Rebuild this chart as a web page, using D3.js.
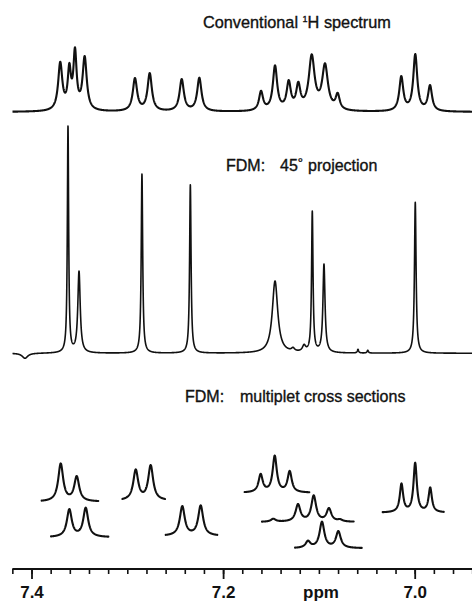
<!DOCTYPE html>
<html>
<head>
<meta charset="utf-8">
<script src="https://cdn.jsdelivr.net/npm/d3@7"></script>
<style>
  html, body { margin: 0; padding: 0; background: #fff; }
  svg { display: block; }
  text { font-family: "Liberation Sans", Arial, sans-serif; fill: #111; }
  .lbl { stroke: #111; stroke-width: 0.35px; }
</style>
</head>
<body>
<svg id="chart" width="472" height="603"></svg>
<script>
// ---------- DATA (chemical shift in ppm, intensity in arbitrary units, line half-width in ppm) ----------
// Conventional 1H spectrum: observed peak maxima
const topShift  = [7.3700, 7.3605, 7.3546, 7.3445, 7.2920, 7.2766, 7.2432, 7.2248, 7.1604, 7.1458, 7.1315, 7.1215, 7.1075, 7.0936, 7.0804, 7.0140, 6.9994, 6.9840];
const topHeight = [50.3, 49.0, 64.7, 56.0, 34.0, 39.0, 33.0, 34.3, 21.3, 46.7, 32.0, 30.3, 57.7, 48.7, 19.3, 36.0, 58.0, 27.0];
const topWidth  = [0.0026, 0.0020, 0.0020, 0.0026, 0.0027, 0.0027, 0.0027, 0.0027, 0.0025, 0.0027, 0.0026, 0.0026, 0.0036, 0.0036, 0.0025, 0.0025, 0.0025, 0.0025];

// FDM 45 degree projection
const projShift  = [7.4068, 7.3619, 7.3504, 7.2847, 7.2342, 7.1458, 7.1270, 7.1155, 7.1069, 7.0947, 7.0592, 7.0490, 6.9994];
const projHeight = [-5.0, 227.6, 82.3, 179.3, 168.6, 72.3, 6.0, 9.0, 142.3, 89.3, 4.0, 3.0, 151.0];
const projWidth  = [0.0035, 0.0008, 0.0015, 0.0009, 0.0009, 0.0034, 0.0020, 0.0020, 0.0009, 0.0013, 0.0008, 0.0008, 0.0010];

// FDM multiplet cross sections (each drawn over its own ppm window, stacked by an intensity offset)
const crossFrom   = [7.3894, 7.3052, 7.3796, 7.2599, 7.1775, 7.1594, 7.1249, 7.0334];
const crossTo     = [7.3303, 7.2606, 7.3198, 7.2061, 7.1100, 7.0637, 7.0553, 6.9697];
const crossOffset = [58.3, 59.3, 22.7, 24.0, 67.2, 38.0, 11.7, 47.3];
const crossWidth  = [0.0031, 0.0031, 0.0031, 0.0031, 0.0026, 0.0030, 0.0030, 0.0021];
const crossShift  = [
  [7.3695, 7.3528],
  [7.2912, 7.2756],
  [7.3605, 7.3434],
  [7.2426, 7.2234],
  [7.1608, 7.1461, 7.1305],
  [7.1476, 7.1218, 7.1054, 7.0895, 7.0780],
  [7.1114, 7.0968, 7.0797],
  [7.0138, 6.9995, 6.9838]
];
const crossHeight = [
  [38.3, 25.7],
  [31.3, 35.7],
  [28.3, 29.7],
  [30.0, 30.7],
  [19.0, 37.3, 22.0],
  [3.3, 18.0, 26.7, 14.0, 3.0],
  [7.7, 26.7, 17.3],
  [29.3, 50.0, 25.3]
];

// Axis ticks
const minorTicks = d3.range(0, 25).map(i => +(7.42 - i * 0.02).toFixed(2));
const majorTicks = [7.4, 7.2, 7.0];
const majorLabels = ["7.4", "7.2", "7.0"];
const axisTitle = "ppm";

// ---------- HELPERS ----------
function lorentz(d, w) { return 1 / (1 + (d / w) * (d / w)); }
// find line amplitudes so the summed curve reaches the observed maxima
function solveAmps(pos, obs, wid) {
  const a = obs.slice();
  for (let it = 0; it < 300; it++) {
    for (let i = 0; i < pos.length; i++) {
      let s = 0;
      for (let j = 0; j < pos.length; j++) s += a[j] * lorentz(pos[i] - pos[j], wid[j]);
      a[i] += 0.7 * (obs[i] - s);
    }
  }
  return a;
}
function spectrum(pos, obs, wid, from, to, step) {
  const amps = solveAmps(pos, obs, wid);
  const pts = [];
  const n = Math.round(Math.abs(from - to) / step);
  for (let k = 0; k <= n; k++) {
    const p = from + (to - from) * k / n;
    let s = 0;
    for (let j = 0; j < pos.length; j++) s += amps[j] * lorentz(p - pos[j], wid[j]);
    pts.push([p, s]);
  }
  return pts;
}

// ---------- SCALES ----------
const svg = d3.select("#chart");
const x = d3.scaleLinear().domain([7.4, 7.0]).range([31.5, 414.7]);
const ppmLeft = 7.42, ppmRight = x.invert(472);
const yTop = d3.scaleLinear().domain([0, 100]).range([112, 12]);
const yProj = d3.scaleLinear().domain([0, 250]).range([353.3, 103.3]);
const yCross = d3.scaleLinear().domain([0, 100]).range([560, 460]);

// ---------- TOP: conventional spectrum ----------
const topPts = spectrum(topShift, topHeight, topWidth, x.invert(12.5), ppmRight, 0.0002);
svg.append("path")
  .attr("d", d3.line().x(d => x(d[0])).y(d => yTop(d[1]))(topPts))
  .attr("fill", "none").attr("stroke", "#111").attr("stroke-width", 2.1).attr("stroke-linejoin", "round");

const t1 = svg.append("text").attr("class", "lbl").attr("x", 203).attr("y", 28).attr("font-size", 16.3);
t1.append("tspan").text("Conventional  ");
t1.append("tspan").attr("font-size", 9).attr("dy", -6).text("1");
t1.append("tspan").attr("dy", 6).text("H spectrum");

// ---------- MIDDLE: FDM projection ----------
const projPts = spectrum(projShift, projHeight, projWidth, x.invert(12.5), ppmRight, 0.0001);
svg.append("path")
  .attr("d", d3.line().x(d => x(d[0])).y(d => yProj(d[1]))(projPts))
  .attr("fill", "none").attr("stroke", "#111").attr("stroke-width", 1.6).attr("stroke-linejoin", "round");

svg.append("text").attr("class", "lbl").attr("x", 226).attr("y", 170.5).attr("font-size", 16).text("FDM:");
const t2 = svg.append("text").attr("class", "lbl").attr("x", 280).attr("y", 170.5).attr("font-size", 16);
t2.append("tspan").text("45");
t2.append("tspan").attr("font-size", 13).attr("dy", -4).text("°");
svg.append("text").attr("class", "lbl").attr("x", 308).attr("y", 170.5).attr("font-size", 16).text("projection");

// ---------- BOTTOM: multiplet cross sections ----------
crossShift.forEach((pos, g) => {
  const wid = pos.map(() => crossWidth[g]);
  const pts = spectrum(pos, crossHeight[g], wid, crossFrom[g], crossTo[g], 0.0002)
    .map(d => [d[0], d[1] + crossOffset[g]]);
  svg.append("path")
    .attr("d", d3.line().x(d => x(d[0])).y(d => yCross(d[1]))(pts))
    .attr("fill", "none").attr("stroke", "#111").attr("stroke-width", 2.1).attr("stroke-linejoin", "round").attr("stroke-linecap", "round");
});

svg.append("text").attr("class", "lbl").attr("x", 185).attr("y", 401.5).attr("font-size", 16).text("FDM:");
svg.append("text").attr("class", "lbl").attr("x", 240).attr("y", 401.5).attr("font-size", 16).text("multiplet cross sections");

// ---------- AXIS ----------
const axisY = 569;
const gMinor = svg.append("g").attr("transform", `translate(0,${axisY})`)
  .call(d3.axisBottom(x).tickValues(minorTicks).tickSize(5).tickFormat(""));
gMinor.select(".domain").remove();
gMinor.selectAll(".tick line").attr("stroke", "#111").attr("stroke-width", 1.6);

const gMajor = svg.append("g").attr("transform", `translate(0,${axisY})`)
  .call(d3.axisBottom(x).tickValues(majorTicks).tickSize(10).tickPadding(7)
    .tickFormat((d, i) => majorLabels[i]));
gMajor.select(".domain").remove();
gMajor.selectAll(".tick line").attr("stroke", "#111").attr("stroke-width", 1.8);
gMajor.selectAll(".tick text")
  .attr("font-family", "'Liberation Sans', Arial, sans-serif")
  .attr("font-size", 17).attr("font-weight", "bold").attr("fill", "#111");

svg.append("line").attr("x1", x(ppmLeft)).attr("x2", 472).attr("y1", axisY).attr("y2", axisY)
  .attr("stroke", "#111").attr("stroke-width", 2);

svg.append("text").attr("x", 321).attr("y", 597.5).attr("text-anchor", "middle")
  .attr("font-size", 17).attr("font-weight", "bold").text(axisTitle);
</script>
</body>
</html>
